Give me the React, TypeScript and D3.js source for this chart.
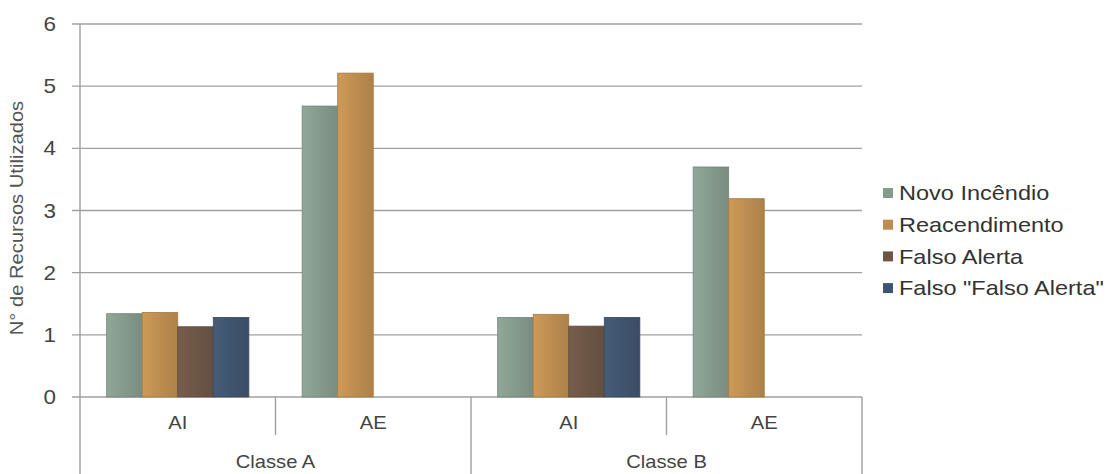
import React from "react";
import * as d3 from "d3";

const groups = ["Classe A", "Classe B"];
const subCategories = ["AI", "AE"];
const series = ["Novo Incêndio", "Reacendimento", "Falso Alerta", "Falso \"Falso Alerta\""];
const colors = ["#849a8c", "#bd8d50", "#6d5646", "#3f546e"];
// values per [group][subcategory][series]
const classeA_AI = [1.34, 1.36, 1.13, 1.28];
const classeA_AE = [4.68, 5.21, 0, 0];
const classeB_AI = [1.28, 1.33, 1.14, 1.28];
const classeB_AE = [3.7, 3.19, 0, 0];
const yTicks = [0, 1, 2, 3, 4, 5, 6];
const yTitle = "N° de Recursos Utilizados";

const dataRows = [
  { group: groups[0], sub: subCategories[0], values: classeA_AI },
  { group: groups[0], sub: subCategories[1], values: classeA_AE },
  { group: groups[1], sub: subCategories[0], values: classeB_AI },
  { group: groups[1], sub: subCategories[1], values: classeB_AE },
];

export default function App() {
  const W = 1117, H = 474;
  const left = 80, right = 862, top = 24, bottom = 397;
  const y = d3.scaleLinear().domain([0, 6]).range([bottom, top]);
  const keys = dataRows.map((d) => d.group + "|" + d.sub);
  const x0 = d3.scaleBand().domain(keys).range([left, right]).paddingInner(0).paddingOuter(0);
  const x1 = d3.scaleBand().domain(series).range([0, x0.bandwidth()]).paddingInner(0).paddingOuter(0.75);
  const groupScale = d3.scaleBand().domain(groups).range([left, right]);
  const font = "'Liberation Sans', Arial, sans-serif";
  const sx = 1.12;

  return (
    <svg width={W} height={H} style={{ position: "absolute", left: 0, top: 0, background: "#fff" }}>
      <defs>
        {colors.map((c, i) => {
          const col = d3.color(c)!;
          return (
            <linearGradient key={i} id={"g" + i} x1="0" x2="1" y1="0" y2="0">
              <stop offset="0" stopColor={col.brighter(0.25).toString()} />
              <stop offset="0.5" stopColor={c} />
              <stop offset="1" stopColor={col.darker(0.25).toString()} />
            </linearGradient>
          );
        })}
      </defs>
      {/* gridlines */}
      {yTicks.map((t) => (
        <g key={t}>
          <line x1={left - 8} x2={right} y1={y(t)} y2={y(t)} stroke="#a0a0a0" strokeWidth={1.4} />
          <text
            transform={`translate(56,${y(t)}) scale(${sx},1)`}
            dy="0.35em"
            textAnchor="end"
            fontFamily={font}
            fontSize={20}
            fill="#444"
          >
            {t}
          </text>
        </g>
      ))}
      {/* y axis line */}
      <line x1={left} x2={left} y1={top} y2={H} stroke="#a0a0a0" strokeWidth={1.4} />
      {/* category dividers */}
      {keys.map((k, i) => {
        const xs = (x0(k) as number) + x0.bandwidth();
        const isGroupEdge = i % 2 === 1;
        return (
          <line key={k} x1={xs} x2={xs} y1={bottom} y2={isGroupEdge ? H : 435} stroke="#a0a0a0" strokeWidth={1.4} />
        );
      })}
      {/* bars */}
      {dataRows.map((row) => {
        const k = row.group + "|" + row.sub;
        return (
          <g key={k} transform={`translate(${x0(k)},0)`}>
            {row.values.map((v, i) =>
              v > 0 ? (
                <rect
                  key={i}
                  x={x1(series[i])}
                  y={y(v)}
                  width={x1.bandwidth()}
                  height={y(0) - y(v)}
                  fill={`url(#g${i})`}
                  stroke={d3.color(colors[i])!.darker(0.4).toString()}
                  strokeWidth={0.8}
                />
              ) : null
            )}
            <text
              transform={`translate(${x0.bandwidth() / 2},423) scale(${sx},1)`}
              dy="0.35em"
              textAnchor="middle"
              fontFamily={font}
              fontSize={18}
              fill="#444"
            >
              {row.sub}
            </text>
          </g>
        );
      })}
      {/* group labels */}
      {groups.map((g) => (
        <text
          key={g}
          transform={`translate(${(groupScale(g) as number) + groupScale.bandwidth() / 2},462) scale(${sx},1)`}
          dy="0.35em"
          textAnchor="middle"
          fontFamily={font}
          fontSize={18}
          fill="#444"
        >
          {g}
        </text>
      ))}
      {/* y title */}
      <text
        transform={`translate(23,${218}) rotate(-90) scale(${sx},1)`}
        textAnchor="middle"
        fontFamily={font}
        fontSize={18}
        fill="#555"
      >
        {yTitle}
      </text>
      {/* legend */}
      {series.map((s, i) => (
        <g key={s} transform={`translate(883,${193 + i * 31.7})`}>
          <rect x={0} y={-5} width={10} height={10} fill={colors[i]} />
          <text
            transform={`translate(16,0) scale(${sx},1)`}
            dy="0.35em"
            fontFamily={font}
            fontSize={21}
            fill="#333"
          >
            {s}
          </text>
        </g>
      ))}
    </svg>
  );
}
